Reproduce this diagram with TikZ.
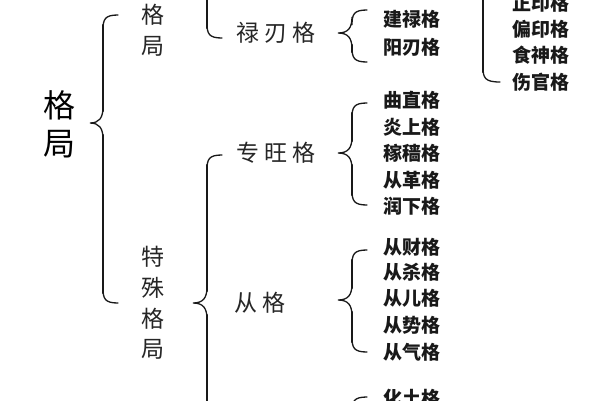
\documentclass[tikz,border=0pt]{standalone}
\usepackage{fontspec}
\newfontfamily\cjk{Noto Sans CJK SC}
\tikzset{
  brc/.style={line width=1.3pt, line cap=round, black!90},
  brcthick/.style={line width=2.6pt, line cap=round, black!90},
  big/.style={inner sep=0pt, align=center, font=\cjk\fontsize{32}{38}\selectfont},
  lvl/.style={inner sep=0pt, align=center, font=\cjk\fontsize{23}{30.7}\selectfont, black!85},
  kid/.style={inner sep=0pt, font=\cjk\bfseries\fontsize{19}{19}\selectfont, black!90},
}
\newcommand\ls{\hspace{5pt}}
% #1 xv, #2 xe, #3 xt, #4 yt, #5 ym, #6 yb
\newcommand\brc[6]{%
  \draw[brc] (#2,#4) .. controls ({#1+2},{#4}) and ({#1},{#4+4}) .. ({#1},{#4+15})
    -- ({#1},{#5-16}) .. controls ({#1},{#5-5}) and ({#1-4},{#5}) .. (#3,#5)
    .. controls ({#1-4},{#5}) and ({#1},{#5+5}) .. ({#1},{#5+16})
    -- ({#1},{#6-15}) .. controls ({#1},{#6-4}) and ({#1+2},{#6}) .. (#2,#6);
  \draw[brcthick] ({#1},{#4+10}) -- ({#1},{#5-12});
  \draw[brcthick] ({#1},{#5+12}) -- ({#1},{#6-10});}
\begin{document}
\begin{tikzpicture}[x=1pt,y=-1pt]
\clip (0,0) rectangle (600,400);
\fill[white] (0,0) rectangle (600,400);
% braces
\brc{103}{118}{90}{15}{123}{303}
\brc{207}{222}{193}{-150}{-60}{38}
\brc{352}{367}{338}{10}{33}{62}
\brc{483}{500}{469}{-150}{-60}{82}
\brc{207}{222}{193}{155}{303}{560}
\brc{352}{367}{338}{103}{153}{205}
\brc{352}{367}{338}{250}{300}{352}
\brc{352}{367}{338}{397}{450}{500}
% labels
\node[big] (root) at (59,124) {格\\局};
\node[lvl] (zg) at (153,30) {格\\局};
\node[lvl] (ts) at (153,303) {特\\殊\\格\\局};
\node[lvl] (lr) at (276,33) {禄\ls 刃\ls 格};
\node[lvl] (zw) at (276,153) {专\ls 旺\ls 格};
\node[lvl] (cg) at (260,303) {从\ls 格};
% children
\node[kid] (a1) at (412,19.5) {建禄格};
\node[kid] (a2) at (412,47) {阳刃格};
\node[kid] (b0) at (541,3) {正印格};
\node[kid] (b1) at (541,29) {偏印格};
\node[kid] (b2) at (541,55) {食神格};
\node[kid] (b3) at (541,82) {伤官格};
\node[kid] (c1) at (412,100) {曲直格};
\node[kid] (c2) at (412,127) {炎上格};
\node[kid] (c3) at (412,153) {稼穑格};
\node[kid] (c4) at (412,180) {从革格};
\node[kid] (c5) at (412,206) {润下格};
\node[kid] (d1) at (412,247) {从财格};
\node[kid] (d2) at (412,272) {从杀格};
\node[kid] (d3) at (412,298) {从儿格};
\node[kid] (d4) at (412,325) {从势格};
\node[kid] (d5) at (412,352) {从气格};
\node[kid] (e1) at (412,398) {化土格};
\end{tikzpicture}
\end{document}
